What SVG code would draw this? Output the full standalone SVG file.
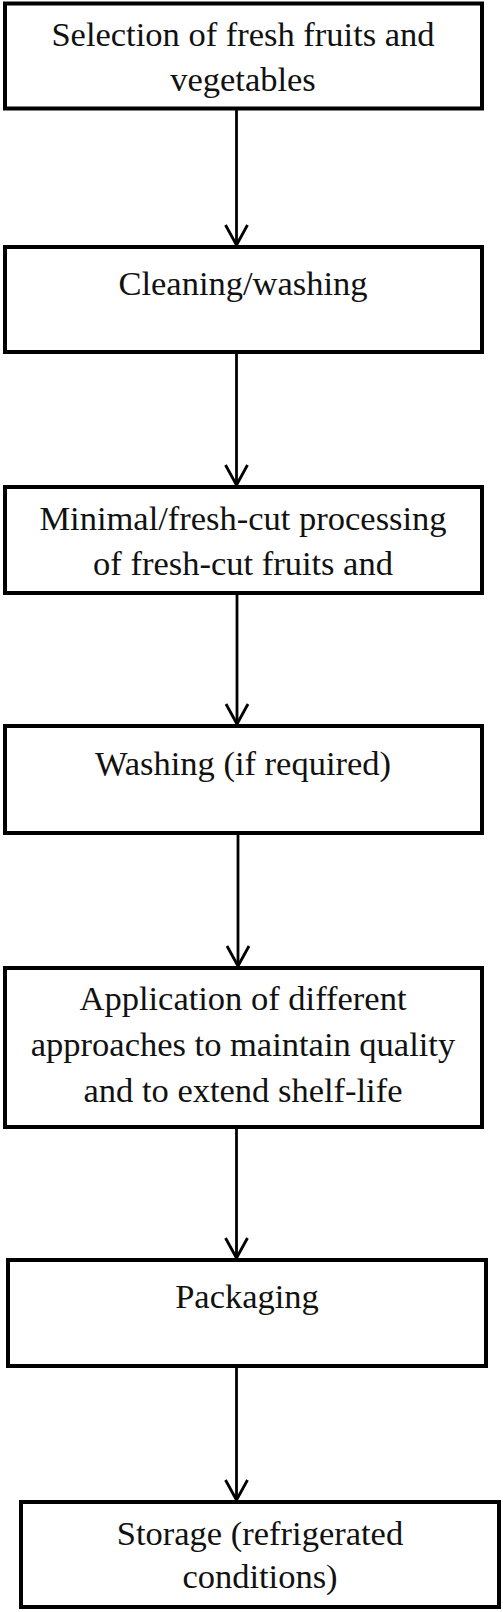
<svg xmlns="http://www.w3.org/2000/svg" width="503" height="1612" viewBox="0 0 503 1612">
<style>
.box{fill:#fff;stroke:#000;stroke-width:4}
.lbl{font-family:"Liberation Serif","Times New Roman",serif;font-size:34.5px;fill:#111;text-anchor:middle}
.conn{stroke:#000;stroke-width:2.8;fill:none}
</style>
<defs>
<marker id="arr" markerUnits="userSpaceOnUse" orient="auto" refX="0" refY="0" overflow="visible" markerWidth="22" markerHeight="22">
<path d="M-20,-11 L0,0 L-20,11" fill="none" stroke="#000" stroke-width="2.8"/>
</marker>
</defs>
<rect width="503" height="1612" fill="#fff"/>
<g id="connectors">
<line class="conn" x1="236.5" y1="109" x2="236.5" y2="245" marker-end="url(#arr)"/>
<line class="conn" x1="236.5" y1="353" x2="236.5" y2="485" marker-end="url(#arr)"/>
<line class="conn" x1="237" y1="594" x2="237" y2="724" marker-end="url(#arr)"/>
<line class="conn" x1="238" y1="834" x2="238" y2="966" marker-end="url(#arr)"/>
<line class="conn" x1="236.5" y1="1128" x2="236.5" y2="1258" marker-end="url(#arr)"/>
<line class="conn" x1="236.5" y1="1367" x2="236.5" y2="1500" marker-end="url(#arr)"/>
</g>
<g id="n1">
<rect class="box" x="5" y="3.5" width="477" height="105"/>
<text class="lbl" x="243" y="46">Selection of fresh fruits and</text>
<text class="lbl" x="243" y="91">vegetables</text>
</g>
<g id="n2">
<rect class="box" x="5" y="247" width="477" height="105"/>
<text class="lbl" x="243" y="295">Cleaning/washing</text>
</g>
<g id="n3">
<rect class="box" x="5" y="487" width="477" height="106"/>
<text class="lbl" x="243" y="530">Minimal/fresh-cut processing</text>
<text class="lbl" x="243" y="575">of fresh-cut fruits and</text>
</g>
<g id="n4">
<rect class="box" x="5" y="726" width="477" height="107"/>
<text class="lbl" x="243" y="775">Washing (if required)</text>
</g>
<g id="n5">
<rect class="box" x="5" y="968" width="477" height="159"/>
<text class="lbl" x="243" y="1010">Application of different</text>
<text class="lbl" x="243" y="1056">approaches to maintain quality</text>
<text class="lbl" x="243" y="1102">and to extend shelf-life</text>
</g>
<g id="n6">
<rect class="box" x="8" y="1260" width="478" height="106"/>
<text class="lbl" x="247" y="1308">Packaging</text>
</g>
<g id="n7">
<rect class="box" x="21" y="1502" width="478" height="105"/>
<text class="lbl" x="260" y="1545">Storage (refrigerated</text>
<text class="lbl" x="260" y="1588">conditions)</text>
</g>
</svg>
